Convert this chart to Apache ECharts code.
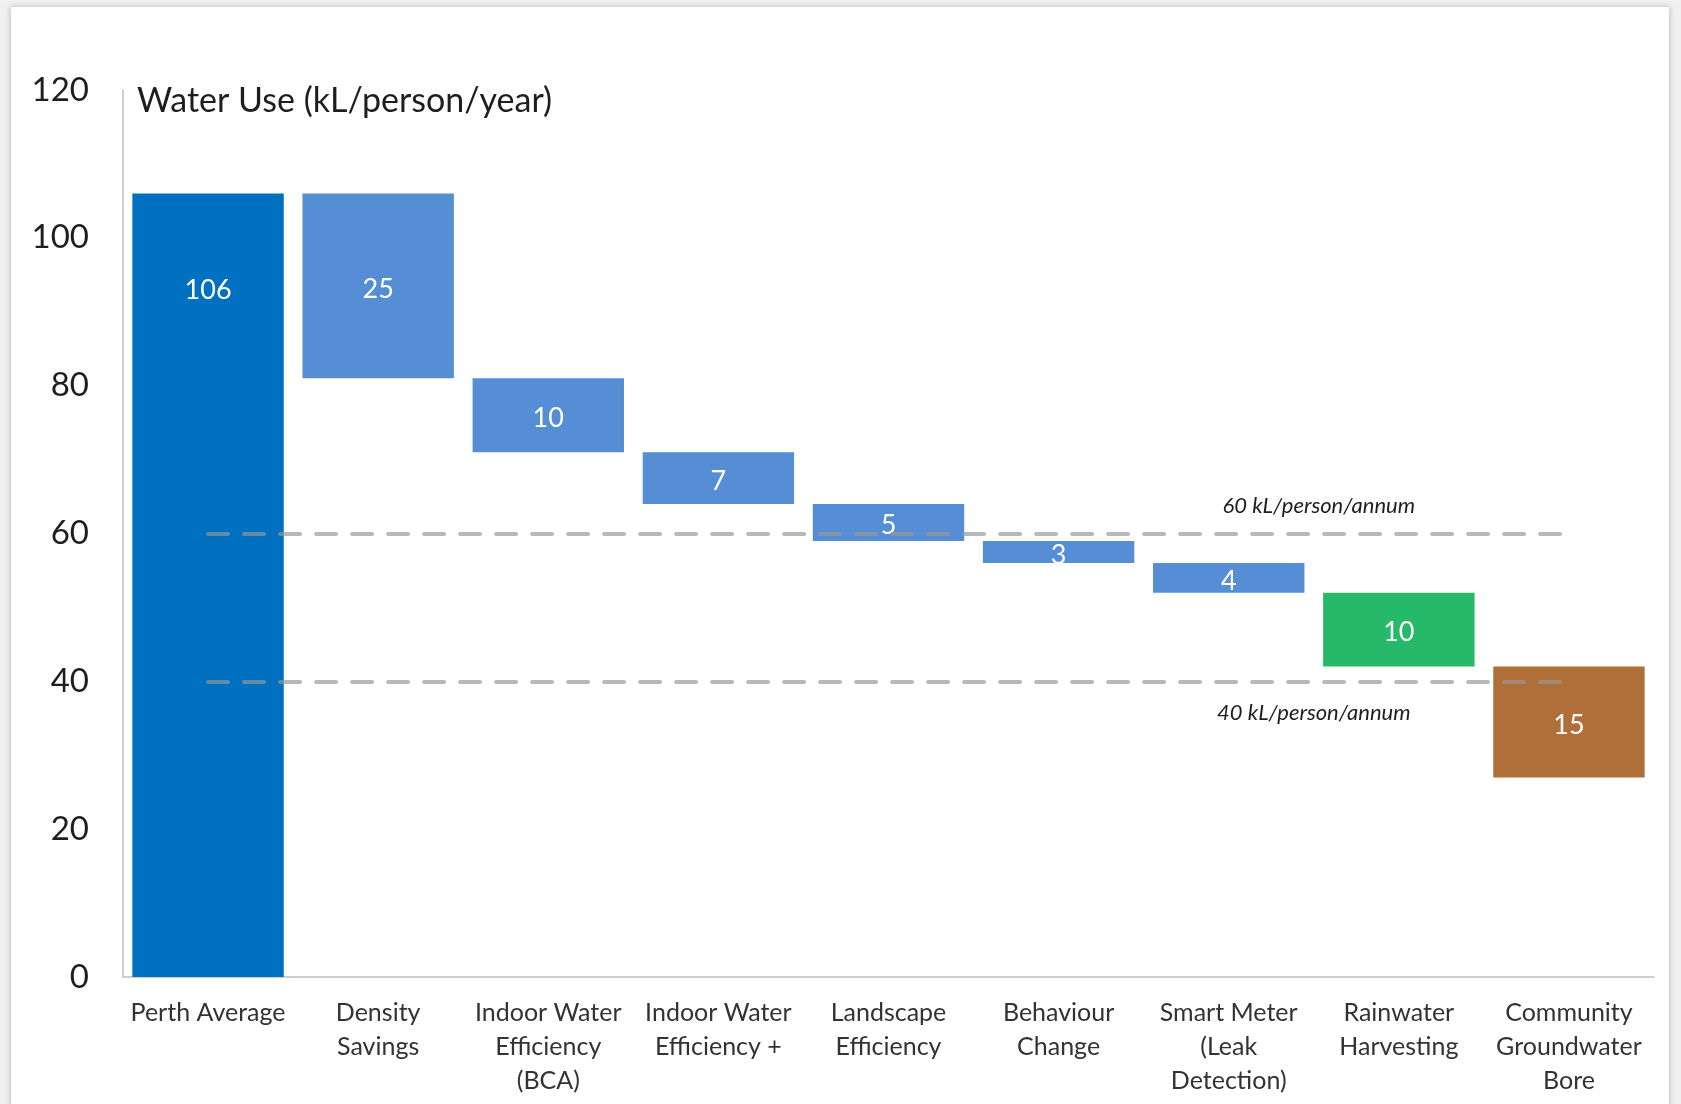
<!DOCTYPE html>
<html>
<head>
  <meta charset="UTF-8">
  <title>Water Use (kL/person/year)</title>
  <script src="https://cdn.jsdelivr.net/npm/echarts@6/dist/echarts.min.js"></script>
  <style>
    html, body { margin: 0; padding: 0; background: #f0f0f0; }
    #panel {
      position: absolute; left: 11px; top: 7px; width: 1658px; height: 1110px;
      background: #fff; box-shadow: 0 0 6px rgba(0,0,0,0.25);
    }
    #chart { position: absolute; left: 0; top: 0; width: 1681px; height: 1104px; }
  </style>
</head>
<body>
  <div id="panel"></div>
  <div id="chart"></div>
  <script>
    // categories and step values
    const categories = [
      'Perth Average', 'Density\nSavings', 'Indoor Water\nEfficiency\n(BCA)', 'Indoor Water\nEfficiency +',
      'Landscape\nEfficiency', 'Behaviour\nChange', 'Smart Meter\n(Leak\nDetection)', 'Rainwater\nHarvesting',
      'Community\nGroundwater\nBore'
    ];
    const values = [106, 25, 10, 7, 5, 3, 4, 10, 15];
    const barColors = ['#0070C0', '#558ED5', '#558ED5', '#558ED5', '#558ED5', '#558ED5', '#558ED5', '#26B96A', '#B06E38'];
    const targets = [60, 40];
    const targetLabels = ['60 kL/person/annum', '40 kL/person/annum'];
    const yTicks = [0, 20, 40, 60, 80, 100, 120];

    // waterfall: invisible base under each step
    const bases = [];
    let total = 0;
    values.forEach((v, i) => {
      if (i === 0) { bases.push(0); total = v; }
      else { total -= v; bases.push(total); }
    });

    const font = 'Lato, "Open Sans", sans-serif';
    const chart = echarts.init(document.getElementById('chart'));

    chart.setOption({
      animation: false,
      textStyle: { fontFamily: font },
      title: {
        text: 'Water Use (kL/person/year)',
        left: 132, top: 79,
        textStyle: { fontFamily: font, fontSize: 34, fontWeight: 'normal', color: '#1e1e1e' }
      },
      grid: { left: 123, right: 27, top: 90, bottom: 127 },
      xAxis: {
        type: 'category',
        data: categories,
        axisTick: { show: false },
        axisLine: { lineStyle: { color: '#BFBFBF', width: 1.5 } },
        axisLabel: { interval: 0, color: '#333333', fontSize: 25, lineHeight: 34, margin: 19 }
      },
      yAxis: {
        type: 'value',
        min: yTicks[0], max: yTicks[yTicks.length - 1], interval: 20,
        splitLine: { show: false },
        axisTick: { show: false },
        axisLine: { show: true, lineStyle: { color: '#BFBFBF', width: 1.5 } },
        axisLabel: { color: '#1e1e1e', fontSize: 33, margin: 34 }
      },
      series: [
        {
          type: 'bar', stack: 'w', silent: true,
          data: bases,
          itemStyle: { color: 'transparent' },
          barCategoryGap: '11%'
        },
        {
          type: 'bar', stack: 'w',
          data: values.map((v, i) => ({
            value: v,
            itemStyle: { color: barColors[i] },
            label: i === 0 ? { position: 'insideTop', distance: 80 } : {}
          })),
          label: { show: true, position: 'inside', color: '#fff', fontSize: 27, offset: [0, 3] },
          barCategoryGap: '11%',
          z: 2
        },
        {
          type: 'line', data: [], z: 5,
          markLine: {
            silent: true, symbol: 'none',
            lineStyle: { color: 'rgba(150,150,150,0.68)', type: [20, 16], width: 4, cap: 'round' },
            label: { show: false },
            data: targets.map(t => [{ coord: [0, t] }, { coord: [categories.length - 1, t] }])
          }
        }
      ]
    });

    // italic target labels, centred between Smart Meter and Rainwater
    const xa = chart.convertToPixel({ xAxisIndex: 0 }, 6);
    const xb = chart.convertToPixel({ xAxisIndex: 0 }, 7);
    const lx = (xa + xb) / 2 + 5;
    chart.setOption({
      graphic: targets.map((t, i) => {
        const y = chart.convertToPixel({ yAxisIndex: 0 }, t);
        return {
          type: 'text', x: i === 0 ? lx : lx - 5, y: i === 0 ? y - 28 : y + 32,
          style: {
            text: targetLabels[i], fontFamily: font, fontStyle: 'italic', fontSize: 22,
            fill: '#1e1e1e', textAlign: 'center', textVerticalAlign: 'middle'
          }
        };
      })
    });
  </script>
</body>
</html>
